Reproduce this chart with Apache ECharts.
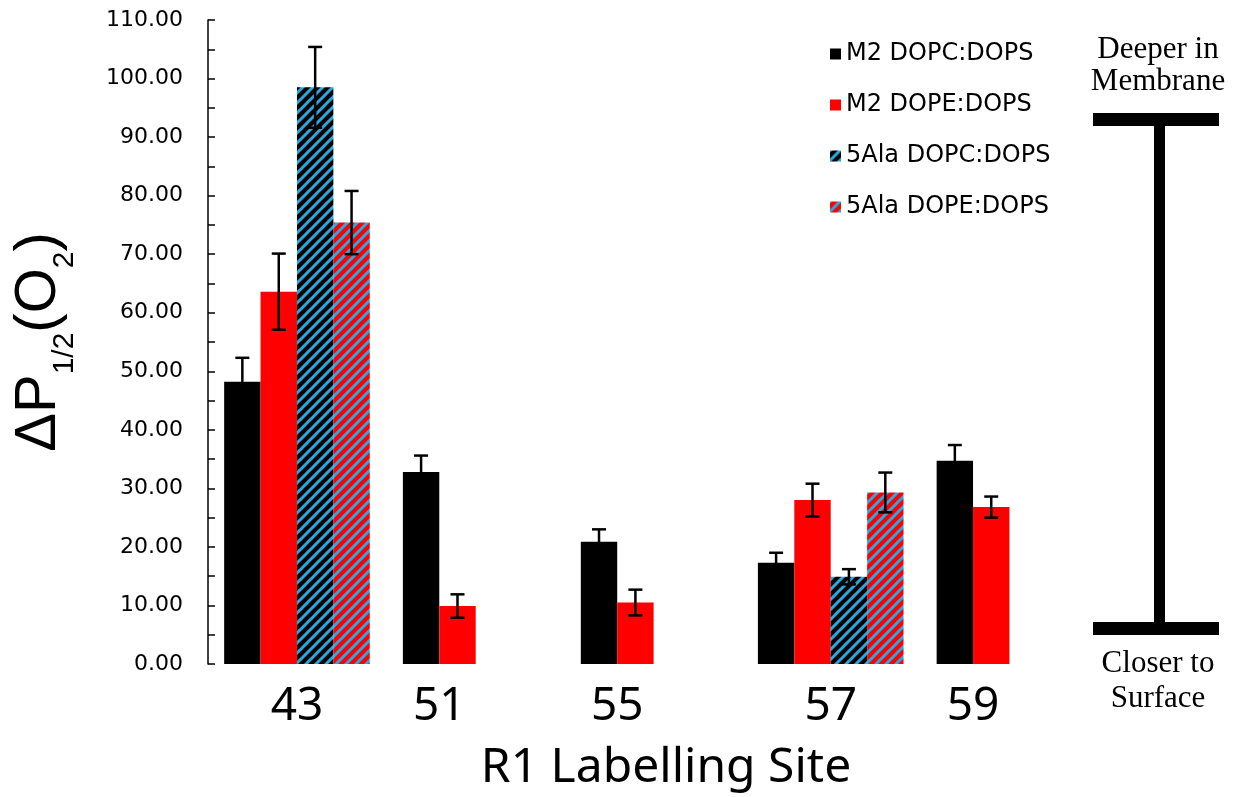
<!DOCTYPE html>
<html>
<head>
<meta charset="utf-8">
<script src="https://cdn.jsdelivr.net/npm/echarts@6/dist/echarts.min.js"></script>
<style>
  html, body { margin: 0; padding: 0; background: #fff; }
  #chart { width: 1244px; height: 797px; }
</style>
</head>
<body>
<div id="chart"></div>
<script>
// ---------------- data ----------------
const sites = ['43', '51', '55', '57', '59'];
// category axis tick labels (blank slots reproduce the uneven spacing of the sites)
const xTickLabels = ['', '', '43', '', '', '', '51', '', '', '', '', '55', '', '', '', '', '', '57', '', '', '', '59', '', ''];
const yTickValues = [0, 10, 20, 30, 40, 50, 60, 70, 80, 90, 100, 110];

const seriesNames = ['M2 DOPC:DOPS', 'M2 DOPE:DOPS', '5Ala DOPC:DOPS', '5Ala DOPE:DOPS'];
const m2DopcValues  = [48.2, 32.8, 20.9, 17.3, 34.7];
const m2DopcErrors  = [4.1, 2.8, 2.1, 1.7, 2.7];
const m2DopeValues  = [63.6, 9.9, 10.5, 28.0, 26.8];
const m2DopeErrors  = [6.5, 2.0, 2.2, 2.8, 1.8];
const ala5DopcValues = [98.5, null, null, 14.9, null];
const ala5DopcErrors = [6.9, null, null, 1.3, null];
const ala5DopeValues = [75.4, null, null, 29.3, null];
const ala5DopeErrors = [5.4, null, null, 3.4, null];

const allValues = [m2DopcValues, m2DopeValues, ala5DopcValues, ala5DopeValues];
const allErrors = [m2DopcErrors, m2DopeErrors, ala5DopcErrors, ala5DopeErrors];

// ---------------- styles ----------------
function hatch(bg, stripe) {
  const s = 10, c = document.createElement('canvas');
  c.width = s; c.height = s;
  const g = c.getContext('2d');
  g.fillStyle = bg; g.fillRect(0, 0, s, s);
  g.strokeStyle = stripe; g.lineWidth = 3; g.lineCap = 'square';
  g.beginPath();
  g.moveTo(0, s); g.lineTo(s, 0);
  g.moveTo(-2, 2); g.lineTo(2, -2);
  g.moveTo(s - 2, s + 2); g.lineTo(s + 2, s - 2);
  g.stroke();
  return { image: c, repeat: 'repeat' };
}
const fills = ['#000000', '#ff0000', hatch('#000000', '#27a9e1'), hatch('#ff0000', '#27a9e1')];

// ---------------- build series ----------------
const series = seriesNames.map((name, si) => {
  const data = [];
  sites.forEach((site, ci) => {
    const v = allValues[si][ci];
    if (v == null) return;
    const present = allValues.map((arr, k) => arr[ci] != null ? k : -1).filter(k => k >= 0);
    data.push([xTickLabels.indexOf(site), v, allErrors[si][ci], present.indexOf(si), present.length]);
  });
  return {
    name: name,
    type: 'custom',
    itemStyle: { color: fills[si] },
    emphasis: { disabled: true },
    data: data,
    encode: { x: 0, y: 1 },
    renderItem: function (params, api) {
      const xi = api.value(0), v = api.value(1), e = api.value(2), k = api.value(3), n = api.value(4);
      const base = api.coord([xi, 0]);
      const top = api.coord([xi, v]);
      const bw = api.size([1, 0])[0] * 1.023;
      const x0 = base[0] + (k - n / 2) * bw;
      const cx = x0 + bw / 2;
      const hi = api.coord([xi, v + e])[1];
      const lo = api.coord([xi, v - e])[1];
      const cap = 14;
      return {
        type: 'group',
        children: [
          { type: 'rect', shape: { x: x0, y: top[1], width: bw, height: base[1] - top[1] },
            style: { fill: fills[params.seriesIndex] } },
          { type: 'line', z2: 10, shape: { x1: cx, y1: lo, x2: cx, y2: hi }, style: { stroke: '#000', lineWidth: 2.5 } },
          { type: 'line', z2: 10, shape: { x1: cx - cap / 2, y1: hi, x2: cx + cap / 2, y2: hi }, style: { stroke: '#000', lineWidth: 2.5 } },
          { type: 'line', z2: 10, shape: { x1: cx - cap / 2, y1: lo, x2: cx + cap / 2, y2: lo }, style: { stroke: '#000', lineWidth: 2.5 } }
        ]
      };
    }
  };
});

const chart = echarts.init(document.getElementById('chart'), null, { renderer: 'canvas' });
chart.setOption({
  animation: false,
  backgroundColor: '#ffffff',
  grid: { left: 208, right: 182, top: 20, bottom: 132, containLabel: false },
  legend: {
    data: seriesNames,
    orient: 'vertical',
    left: 825,
    top: 36,
    icon: 'rect',
    itemWidth: 11,
    itemHeight: 11,
    itemGap: 25,
    selectedMode: false,
    textStyle: { fontFamily: 'DejaVu Sans', fontSize: 24, color: '#000', lineHeight: 26 }
  },
  xAxis: {
    type: 'category',
    data: xTickLabels,
    axisLine: { show: false },
    axisTick: { show: false },
    axisLabel: { interval: 0, margin: 20, fontFamily: 'Noto Sans', fontSize: 46, color: '#000' },
    name: 'R1 Labelling Site',
    nameLocation: 'middle',
    nameGap: 80,
    nameTextStyle: { fontFamily: 'Noto Sans', fontSize: 48, color: '#000', padding: [0, 0, 0, 62] }
  },
  yAxis: {
    type: 'value',
    min: yTickValues[0],
    max: yTickValues[yTickValues.length - 1],
    interval: 10,
    axisLine: { show: true, lineStyle: { color: '#000', width: 1.5 } },
    axisTick: { show: true, inside: true, length: 7, lineStyle: { color: '#000', width: 1.5 } },
    minorTick: { show: true, splitNumber: 2, length: 7, lineStyle: { color: '#000', width: 1.5 } },
    splitLine: { show: false },
    axisLabel: { margin: 25, fontFamily: 'DejaVu Sans', fontSize: 22, color: '#000',
      formatter: v => v.toFixed(2) },
    name: '{m|ΔP}{s|1/2}{m|(O}{s|2}{m|)}',
    nameLocation: 'middle',
    nameGap: 128,
    nameRotate: 90,
    nameTextStyle: {
      rich: {
        m: { fontFamily: 'Liberation Sans', fontSize: 58, color: '#000', padding: [0, 0, 12, 0] },
        s: { fontFamily: 'Liberation Sans', fontSize: 30, color: '#000', verticalAlign: 'bottom', lineHeight: 30 }
      }
    }
  },
  graphic: [
    { type: 'text', x: 1158, y: 34, style: { text: 'Deeper in\nMembrane', fontFamily: 'Liberation Serif', fontSize: 31, lineHeight: 32, fill: '#000', align: 'center', verticalAlign: 'top' } },
    { type: 'rect', shape: { x: 1093, y: 113, width: 126, height: 13 }, style: { fill: '#000' } },
    { type: 'rect', shape: { x: 1154, y: 120, width: 11, height: 510 }, style: { fill: '#000' } },
    { type: 'rect', shape: { x: 1093, y: 622, width: 126, height: 13 }, style: { fill: '#000' } },
    { type: 'text', x: 1158, y: 646, style: { text: 'Closer to\nSurface', fontFamily: 'Liberation Serif', fontSize: 31, lineHeight: 35, fill: '#000', align: 'center', verticalAlign: 'top' } }
  ],
  series: series
});
</script>
</body>
</html>
